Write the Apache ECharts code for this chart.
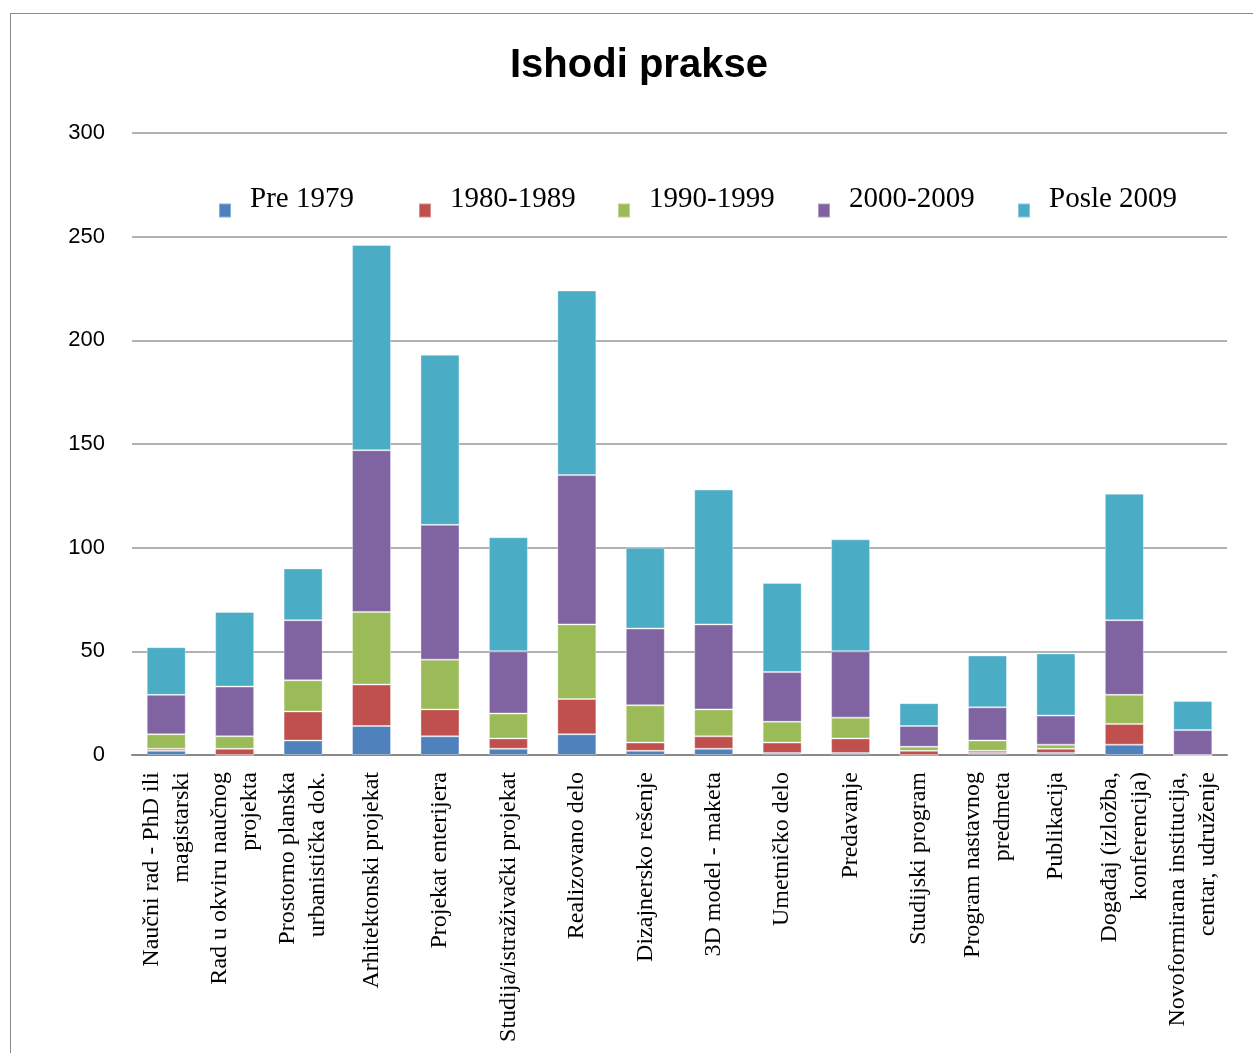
<!DOCTYPE html>
<html>
<head>
<meta charset="utf-8">
<script src="https://cdn.jsdelivr.net/npm/echarts@6/dist/echarts.min.js"></script>
<style>
  html, body { margin: 0; padding: 0; background: #fff; }
  .chart-warp { position: relative; width: 1253px; height: 1053px; }
  .chart-frame {
    position: absolute; left: 10px; top: 13px; right: -2px; bottom: -2px;
    border: 1px solid #8a8a8a; pointer-events: none;
  }
  #ishodiChart { width: 1253px; height: 1053px; }
</style>
</head>
<body>
<div class="chart-warp">
  <div id="ishodiChart"></div>
  <div class="chart-frame"></div>
</div>
<script>
const categories = [
  'Naučni rad - PhD ili\nmagistarski',
  'Rad u okviru naučnog\nprojekta',
  'Prostorno planska\nurbanistička dok.',
  'Arhitektonski projekat',
  'Projekat enterijera',
  'Studija/istraživački projekat',
  'Realizovano delo',
  'Dizajnersko rešenje',
  '3D model - maketa',
  'Umetničko delo',
  'Predavanje',
  'Studijski program',
  'Program nastavnog\npredmeta',
  'Publikacija',
  'Događaj (izložba,\nkonferencija)',
  'Novoformirana institucija,\ncentar, udruženje'
]
const seriesNames = ['Pre 1979', '1980-1989', '1990-1999', '2000-2009', 'Posle 2009']
const pre1979   = [2, 0, 7, 14, 9, 3, 10, 2, 3, 1, 1, 0, 1, 1, 5, 0]
const d1980     = [1, 3, 14, 20, 13, 5, 17, 4, 6, 5, 7, 2, 1, 2, 10, 0]
const d1990     = [7, 6, 15, 35, 24, 12, 36, 18, 13, 10, 10, 2, 5, 2, 14, 0]
const d2000     = [19, 24, 29, 78, 65, 30, 72, 37, 41, 24, 32, 10, 16, 14, 36, 12]
const posle2009 = [23, 36, 25, 99, 82, 55, 89, 39, 65, 43, 54, 11, 25, 30, 61, 14]
const yTicks = [0, 50, 100, 150, 200, 250, 300]

const colors = ['#4F81BD', '#C0504D', '#9BBB59', '#8064A2', '#4BACC6']
const values = [pre1979, d1980, d1990, d2000, posle2009]
// legend items sit about 200px apart, text raised above the marker
const legendLeft = [213, 413, 612, 812, 1012]

const option = {
  animation: false,
  color: colors,
  title: {
    text: 'Ishodi prakse',
    left: 505,
    top: 41,
    textStyle: {
      fontFamily: 'Liberation Sans',
      fontWeight: 'bold',
      fontSize: 40,
      color: '#000'
    }
  },
  legend: seriesNames.map((name, i) => ({
    data: [name],
    left: legendLeft[i],
    top: 180,
    itemWidth: 12,
    itemHeight: 14,
    icon: 'rect',
    formatter: '{t|{name}}',
    textStyle: {
      rich: {
        t: {
          fontFamily: 'Liberation Serif',
          fontSize: 29,
          color: '#000',
          padding: [3, 0, 25, 14]
        }
      }
    }
  })),
  grid: {
    left: 132,
    right: 26,
    top: 133,
    bottom: 298
  },
  xAxis: {
    type: 'category',
    data: categories,
    axisTick: { show: false },
    axisLine: { lineStyle: { color: '#888', width: 2 } },
    axisLabel: {
      interval: 0,
      rotate: 90,
      margin: 17,
      fontFamily: 'Liberation Serif',
      fontSize: 24,
      lineHeight: 30,
      color: '#000'
    }
  },
  yAxis: {
    type: 'value',
    min: yTicks[0],
    max: yTicks[yTicks.length - 1],
    interval: 50,
    axisLine: { show: false },
    axisTick: { show: false },
    axisLabel: {
      margin: 27,
      fontFamily: 'Liberation Sans',
      fontSize: 22,
      color: '#000'
    },
    splitLine: {
      show: true,
      lineStyle: { color: '#979797', width: 1.5 }
    }
  },
  series: seriesNames.map((name, i) => ({
    name: name,
    type: 'bar',
    stack: 'total',
    barWidth: 39,
    data: values[i],
    itemStyle: { borderColor: 'rgba(255,255,255,0.35)', borderWidth: 1 }
  }))
}

const myChart = echarts.init(document.getElementById('ishodiChart'))
myChart.setOption(option)
</script>
</body>
</html>
